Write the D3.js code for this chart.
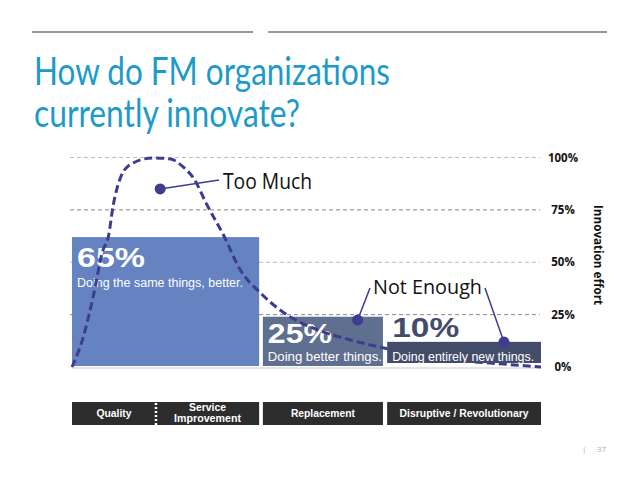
<!DOCTYPE html>
<html>
<head>
<meta charset="utf-8">
<script src="https://cdn.jsdelivr.net/npm/d3@7/dist/d3.min.js"></script>
<style>
  html, body { margin: 0; padding: 0; background: #fff; }
  #chart { width: 638px; height: 479px; }
  text { font-family: "Open Sans", "Noto Sans", sans-serif; }
</style>
</head>
<body>
<div id="chart"></div>
<script>
// ---- data ----
const titleLines = ["How do FM organizations", "currently innovate?"];

const tickValues = [0, 25, 50, 75, 100];
const tickLabels = ["0%", "25%", "50%", "75%", "100%"];

// bars: printed share + drawn height + extent on the x axis
const barLabels = ["65%", "25%", "10%"];
const barCaptions = ["Doing the same things, better.", "Doing better things.", "Doing entirely new things."];
const barHeights = [62, 24, 12];
const barStart = [0, 40.7, 67.2];
const barEnd = [39.9, 66.3, 100];

// innovation type bands under the chart
const categories = ["Quality", "Service Improvement", "Replacement", "Disruptive / Revolutionary"];
const categoryStart = [0, 17.9, 40.7, 67.2];
const categoryEnd = [17.9, 39.9, 66.3, 100];

// dashed effort curve
const curveX = [0, 2.4, 4.5, 6.6, 7.7, 8.8, 10.3, 12.6, 17.3, 21, 23.7, 25.9, 28.8, 32.3, 35.9, 40.2, 45.9, 52.4, 59.4, 66.5, 74.4, 85, 92, 100];
const curveY = [0, 14.3, 33.4, 55.8, 61.6, 77.3, 90.2, 96.9, 99.8, 99.3, 95.5, 90.2, 77.3, 63, 46.3, 35.3, 24.8, 17.7, 12.9, 9.1, 5.7, 2.6, 1.4, 0];

// callout dots
const calloutX = [18.8, 60.9, 92.1];
const calloutY = [85, 22.4, 11.9];

// ---- setup ----
const svg = d3.select("#chart").append("svg")
  .attr("width", 638)
  .attr("height", 479);

const x = d3.scaleLinear().domain([0, 100]).range([72, 541]);
const y = d3.scaleLinear().domain([0, 100]).range([367, 157.5]);

const narrow = "'Liberation Sans', Arial, sans-serif";

// squeeze text to a width (the original uses a condensed face)
function fit(sel, w) {
  sel.attr("textLength", w).attr("lengthAdjust", "spacingAndGlyphs");
  return sel;
}

// header rules
svg.append("line").attr("x1", 32).attr("x2", 253).attr("y1", 32).attr("y2", 32)
  .attr("stroke", "#333").attr("stroke-width", 1.2);
svg.append("line").attr("x1", 268).attr("x2", 607).attr("y1", 32).attr("y2", 32)
  .attr("stroke", "#333").attr("stroke-width", 1.2);

// title
const titleWidths = [356, 266];
titleLines.forEach((t, i) => {
  fit(svg.append("text")
    .attr("x", 34)
    .attr("y", 85 + i * 42)
    .style("font-family", "Lato, sans-serif")
    .style("font-size", "39px")
    .attr("fill", "#1c9bc8")
    .text(t), titleWidths[i]);
});

// gridlines
svg.append("g").selectAll("line")
  .data(tickValues.filter(d => d > 0))
  .join("line")
  .attr("x1", x(0) - 2)
  .attr("x2", x(100) - 1)
  .attr("y1", d => y(d))
  .attr("y2", d => y(d))
  .attr("stroke", d => (d === 75 || d === 25) ? "#888" : "#bbb")
  .attr("stroke-width", 1)
  .attr("stroke-dasharray", "4,3");

// baseline
svg.append("line")
  .attr("x1", x(0)).attr("x2", x(100))
  .attr("y1", y(0) + 1).attr("y2", y(0) + 1)
  .attr("stroke", "#ddd").attr("stroke-width", 1.5);

// bars (the last one sits on top of the curve)
const barColors = ["#6582c1", "#5f6f8f", "#434d6a"];
const barBottom = [y(0) - 1, y(0) - 1, y(0) - 4];
const labelDy = [30, 26, -5];
const labelW = [68, 64, 67];
const labelFill = ["#fff", "#fff", "#434d6a"];
const captionW = [166, 114, 142];
const barsBack = svg.append("g");
const curveLayer = svg.append("g");
const barsFront = svg.append("g");

barHeights.forEach((h, i) => {
  const g = i < 2 ? barsBack : barsFront;
  g.append("rect")
    .attr("x", x(barStart[i]))
    .attr("width", x(barEnd[i]) - x(barStart[i]))
    .attr("y", y(h))
    .attr("height", barBottom[i] - y(h))
    .attr("fill", barColors[i]);
  fit(g.append("text")
    .attr("x", x(barStart[i]) + 5)
    .attr("y", y(h) + labelDy[i])
    .style("font-family", narrow)
    .style("font-size", "27px")
    .style("font-weight", "bold")
    .attr("fill", labelFill[i])
    .text(barLabels[i]), labelW[i]);
  fit(g.append("text")
    .attr("x", x(barStart[i]) + (i === 2 ? 5 : 5))
    .attr("y", i === 0 ? y(h) + 50 : y(0) - 6)
    .style("font-family", narrow)
    .style("font-size", "12.5px")
    .attr("fill", "#fff")
    .text(barCaptions[i]), captionW[i]);
});

// dashed curve
const line = d3.line()
  .x((d, i) => x(curveX[i]))
  .y(d => y(d))
  .curve(d3.curveMonotoneX);

curveLayer.append("path")
  .datum(curveY)
  .attr("d", line)
  .attr("fill", "none")
  .attr("stroke", "#3e3c8e")
  .attr("stroke-width", 3)
  .attr("stroke-dasharray", "8,4");

// callouts
const ink = "#3e3c8e";
const leaderEnd = [[219, 180], [370, 288], [485, 288]];
calloutX.forEach((cx, i) => {
  svg.append("line")
    .attr("x1", x(cx)).attr("y1", y(calloutY[i]))
    .attr("x2", leaderEnd[i][0]).attr("y2", leaderEnd[i][1])
    .attr("stroke", ink).attr("stroke-width", 1.5);
});
svg.append("g").selectAll("circle")
  .data(calloutX)
  .join("circle")
  .attr("cx", d => x(d))
  .attr("cy", (d, i) => y(calloutY[i]))
  .attr("r", 5.5)
  .attr("fill", ink);

fit(svg.append("text")
  .attr("x", 223).attr("y", 189)
  .style("font-size", "21px")
  .attr("fill", "#111")
  .text("Too Much"), 89);
fit(svg.append("text")
  .attr("x", 373).attr("y", 294)
  .style("font-size", "20px")
  .attr("fill", "#111")
  .text("Not Enough"), 109);

// right axis
const axis = svg.append("g")
  .attr("transform", "translate(563,0)")
  .call(d3.axisRight(y).tickValues(tickValues).tickSize(0).tickFormat((d, i) => tickLabels[i]));
axis.select(".domain").remove();
axis.selectAll("text")
  .attr("x", 0)
  .attr("text-anchor", "middle")
  .style("font-family", "'Open Sans', sans-serif")
  .style("font-size", "11.5px")
  .style("font-weight", "bold")
  .attr("fill", "#111");

fit(svg.append("text")
  .attr("transform", "translate(594,255) rotate(90)")
  .attr("text-anchor", "middle")
  .style("font-size", "11.5px")
  .style("font-weight", "bold")
  .attr("fill", "#111")
  .text("Innovation effort"), 100);

// category bands
const band = svg.append("g");
band.selectAll("rect")
  .data(categories)
  .join("rect")
  .attr("x", (d, i) => x(categoryStart[i]))
  .attr("width", (d, i) => x(categoryEnd[i]) - x(categoryStart[i]))
  .attr("y", 402)
  .attr("height", 23)
  .attr("fill", "#2d2d2d");

band.append("line")
  .attr("x1", x(categoryEnd[0])).attr("x2", x(categoryEnd[0]))
  .attr("y1", 403).attr("y2", 425)
  .attr("stroke", "#fff").attr("stroke-width", 2.5)
  .attr("stroke-dasharray", "2,2");

const catW = [35, 67, 64, 129];
categories.forEach((c, i) => {
  const cx = (x(categoryStart[i]) + x(categoryEnd[i])) / 2;
  const words = c === "Service Improvement" ? ["Service", "Improvement"] : [c];
  words.forEach((w, j) => {
    const t = band.append("text")
      .attr("x", cx)
      .attr("y", words.length > 1 ? 410.8 + j * 11.2 : 417)
      .attr("text-anchor", "middle")
      .style("font-family", narrow)
      .style("font-size", words.length > 1 ? "10px" : "11px")
      .style("font-weight", "bold")
      .attr("fill", "#fff")
      .text(w);
    fit(t, words.length > 1 ? (j === 0 ? 37 : catW[i]) : catW[i]);
  });
});

// page number
svg.append("text").attr("x", 582).attr("y", 452)
  .style("font-size", "8px").attr("fill", "#aaa").text("|");
svg.append("text").attr("x", 597).attr("y", 452)
  .style("font-size", "8px").attr("fill", "#aaa").text("37");
</script>
</body>
</html>
